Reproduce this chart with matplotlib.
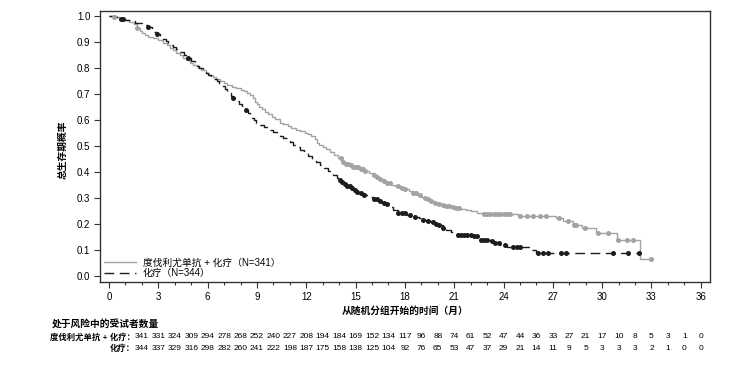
import numpy as np
import matplotlib
matplotlib.use("Agg")
import matplotlib.pyplot as plt
import matplotlib.transforms as mtransforms

plt.rcParams['font.family'] = ['Liberation Sans', 'Noto Sans CJK SC', 'DejaVu Sans']

# ---------------- data ----------------
pembro_label = "度伐利尤单抗 + 化疗（N=341）"
chemo_label = "化疗（N=344）"

pembro_t = [0, 0.3, 0.6, 0.9, 1.2, 1.5, 1.7, 1.9, 2.0, 2.2, 2.4, 2.7, 3.0, 3.3, 3.5, 3.7,
            3.9, 4.1, 4.3, 4.5, 4.7, 4.9, 5.1, 5.4, 5.6, 5.9, 6.1, 6.3, 6.5, 6.75, 7.0,
            7.2, 7.5, 7.7, 8.0, 8.2, 8.4, 8.6, 8.75, 8.9, 9.0, 9.1, 9.3, 9.5, 9.7, 9.9,
            10.1, 10.4, 10.6, 10.9, 11.1, 11.4, 11.6, 11.9, 12.1, 12.3, 12.5, 12.65, 12.8,
            13.0, 13.2, 13.45, 13.7, 13.95, 14.2, 14.4, 14.6, 14.8, 15.0, 15.3, 15.55,
            15.8, 16.1, 16.3, 16.5, 16.7, 16.9, 17.15, 17.4, 17.7, 18.0, 18.25, 18.5,
            18.75, 19.0, 19.2, 19.4, 19.6, 19.8, 20.0, 20.2, 20.5, 20.8, 21.1, 21.4, 21.7,
            22.0, 22.4, 22.8, 24.9, 27.2, 27.6, 28.2, 28.8, 29.6, 30.9, 32.3]
pembro_s = [1.0, 0.995, 0.99, 0.984, 0.977, 0.968, 0.955, 0.943, 0.935, 0.925, 0.918,
            0.914, 0.906, 0.896, 0.888, 0.878, 0.868, 0.857, 0.848, 0.84, 0.83, 0.82,
            0.812, 0.80, 0.792, 0.78, 0.772, 0.765, 0.757, 0.748, 0.741, 0.735, 0.727,
            0.722, 0.715, 0.71, 0.703, 0.695, 0.683, 0.67, 0.66, 0.65, 0.641, 0.632,
            0.622, 0.612, 0.602, 0.59, 0.584, 0.575, 0.568, 0.56, 0.556, 0.55, 0.545,
            0.54, 0.525, 0.513, 0.505, 0.497, 0.49, 0.478, 0.465, 0.452, 0.44, 0.432,
            0.425, 0.421, 0.418, 0.412, 0.405, 0.398, 0.388, 0.38, 0.372, 0.364, 0.357,
            0.351, 0.345, 0.339, 0.333, 0.325, 0.318, 0.311, 0.305, 0.30, 0.296, 0.289,
            0.282, 0.277, 0.272, 0.268, 0.265, 0.261, 0.258, 0.254, 0.25, 0.244, 0.238,
            0.232, 0.222, 0.212, 0.198, 0.185, 0.165, 0.137, 0.065]
pembro_end = 33.0
pembro_cens = [0.3, 1.7,
               14.1, 14.25, 14.4, 14.55, 14.7, 14.85, 15.0, 15.15, 15.3, 15.45, 15.6,
               16.1, 16.3, 16.5, 16.7, 16.9, 17.1, 17.6, 17.8, 18.0, 18.5, 18.7, 18.9,
               19.2, 19.4, 19.6, 19.8, 20.1, 20.3, 20.5, 20.7, 20.9, 21.1, 21.3,
               22.8, 23.0, 23.2, 23.4, 23.6, 23.8, 24.0, 24.2, 24.4,
               25.0, 25.4, 25.8, 26.2, 26.6, 27.4, 27.9, 28.3, 28.4, 28.95, 29.76,
               30.37, 30.98, 31.5, 31.9, 33.0]

chemo_t = [0, 0.4, 0.7, 1.0, 1.3, 1.6, 2.0, 2.4, 2.6, 2.75, 2.9, 3.1, 3.3, 3.45, 3.6,
           3.75, 3.9, 4.1, 4.3, 4.55, 4.8, 5.0, 5.2, 5.35, 5.5, 5.7, 5.9, 6.05, 6.2, 6.4,
           6.55, 6.7, 6.9, 7.05, 7.2, 7.4, 7.56, 7.75, 7.9, 8.1, 8.33, 8.45, 8.6, 8.7,
           8.8, 8.95, 9.1, 9.4, 9.7, 10.0, 10.2, 10.4, 10.6, 10.8, 11.0, 11.2, 11.4, 11.6,
           11.85, 12.1, 12.35, 12.6, 12.85, 13.1, 13.35, 13.65, 13.85, 14.0, 14.15, 14.3,
           14.5, 14.7, 14.9, 15.06, 15.3, 15.5, 15.8, 16.07, 16.35, 16.6, 16.85, 17.1,
           17.3, 17.6, 18.1, 18.35, 18.6, 18.85, 19.1, 19.35, 19.6, 19.85, 20.1, 20.3,
           20.5, 20.8, 21.15, 22.15, 22.6, 23.2, 23.5, 23.8, 24.2, 25.6, 26.0]
chemo_s = [1.0, 0.995, 0.99, 0.985, 0.979, 0.973, 0.965, 0.958, 0.95, 0.94, 0.93, 0.921,
           0.912, 0.903, 0.895, 0.889, 0.882, 0.872, 0.862, 0.85, 0.838, 0.826, 0.815,
           0.807, 0.80, 0.79, 0.78, 0.772, 0.765, 0.756, 0.748, 0.74, 0.73, 0.718, 0.705,
           0.694, 0.683, 0.672, 0.662, 0.651, 0.64, 0.627, 0.615, 0.607, 0.60, 0.59,
           0.58, 0.572, 0.563, 0.555, 0.547, 0.54, 0.531, 0.523, 0.514, 0.505, 0.495,
           0.485, 0.474, 0.462, 0.451, 0.44, 0.428, 0.415, 0.402, 0.388, 0.378, 0.368,
           0.36, 0.352, 0.345, 0.338, 0.331, 0.324, 0.318, 0.312, 0.305, 0.298, 0.29,
           0.282, 0.275, 0.267, 0.254, 0.243, 0.236, 0.232, 0.228, 0.222, 0.215, 0.21,
           0.206, 0.201, 0.196, 0.186, 0.177, 0.168, 0.158, 0.152, 0.14, 0.133, 0.127,
           0.12, 0.112, 0.10, 0.09]
chemo_end = 32.27
chemo_cens = [0.7, 0.85, 2.4, 2.9, 4.83, 7.56, 8.33,
              14.05, 14.2, 14.35, 14.5, 14.65, 14.8, 14.95, 15.1, 15.3, 15.5,
              16.1, 16.3, 16.5, 16.7, 16.9, 17.6, 17.8, 18.0, 18.3, 18.6,
              19.1, 19.4, 19.7, 19.9, 20.1, 20.3,
              21.2, 21.4, 21.6, 21.8, 22.0, 22.2, 22.4, 22.6,
              22.8, 23.0, 23.3, 23.5, 23.7, 24.1, 24.6, 24.8, 25.0,
              26.1, 26.4, 26.7, 27.5, 27.8, 30.65, 31.56, 32.27]

risk_months = list(range(0, 35))
risk_pembro = [341, 331, 324, 309, 294, 278, 268, 252, 240, 227, 208, 194, 184, 169, 152,
               134, 117, 96, 88, 74, 61, 52, 47, 44, 36, 33, 27, 21, 17, 10, 8, 5, 3, 1, 0]
risk_chemo = [344, 337, 329, 316, 298, 282, 260, 241, 222, 198, 187, 175, 158, 138, 125,
              104, 92, 76, 65, 53, 47, 37, 29, 21, 14, 11, 9, 5, 3, 3, 3, 2, 1, 0, 0]
risk_row_labels = ["度伐利尤单抗 + 化疗：", "化疗："]
risk_title = "处于风险中的受试者数量"

x_ticks = list(range(0, 37, 3))
y_ticks = [round(0.1 * i, 1) for i in range(11)]
x_label = "从随机分组开始的时间（月）"
y_label = "总生存期概率"

# ---------------- figure ----------------
W, H = 744, 384
fig = plt.figure(figsize=(W / 100, H / 100), dpi=100)
ax = fig.add_axes([100 / W, 1 - 282 / H, 610 / W, 271 / H])

GREY = "#a3a3a3"
BLACK = "#1c1c1c"


def surv_at(ts, ss, t):
    idx = np.searchsorted(ts, t, side="right") - 1
    return np.asarray(ss)[idx]


# pembro curve
pt = list(pembro_t) + [pembro_end]
ps = list(pembro_s) + [pembro_s[-1]]
ax.step(pt, ps, where="post", color=GREY, lw=1.0, label=pembro_label, zorder=3)
ax.plot(pembro_cens, surv_at(pembro_t, pembro_s, pembro_cens), "o", color=GREY,
        ms=3.6, mec="none", zorder=4)

# chemo curve
ct = list(chemo_t) + [chemo_end]
cs = list(chemo_s) + [chemo_s[-1]]
ln, = ax.step(ct, cs, where="post", color=BLACK, lw=1.0, label=chemo_label, zorder=3)
ln.set_dashes((7, 4))
ax.plot(chemo_cens, surv_at(chemo_t, chemo_s, chemo_cens), "o", color=BLACK,
        ms=3.6, mec="none", zorder=4)

ax.set_xlim(-0.55, 36.56)
ax.set_ylim(-0.023, 1.019)
ax.set_xticks(x_ticks)
ax.set_xticks(range(0, 37), minor=True)
ax.set_yticks(y_ticks)
ax.set_yticklabels([f"{v:.1f}" for v in y_ticks])
ax.tick_params(axis="both", which="major", labelsize=7, length=4, width=0.8,
               color="#333333", pad=3)
ax.tick_params(axis="x", which="minor", length=2.5, width=0.8, color="#333333")
for s in ax.spines.values():
    s.set_color("#333333")
    s.set_linewidth(1.0)

ax.set_xlabel(x_label, fontsize=7, fontweight="bold", labelpad=3)
ax.set_ylabel(y_label, fontsize=7, fontweight="bold")
ax.yaxis.set_label_coords((68 - 100) / 610, 0.487)

leg = ax.legend(loc="lower left", frameon=False, fontsize=7, handlelength=3.3,
                handletextpad=0.7, labelspacing=0.05, borderaxespad=0.2, borderpad=0.2)

# risk table
fig.text(52 / W, 1 - 324 / H, risk_title, fontsize=7, fontweight="bold",
         ha="left", va="center")
trans = mtransforms.blended_transform_factory(ax.transData, fig.transFigure)
rows_y = [1 - 337 / H, 1 - 349 / H]
for lab, vals, yy in zip(risk_row_labels, [risk_pembro, risk_chemo], rows_y):
    fig.text(135 / W, yy, lab, fontsize=6, fontweight="bold", ha="right", va="center")
    for m, v in zip(risk_months, vals):
        ax.text(m + 2, yy, str(v), transform=trans, fontsize=6, ha="center",
                va="center", clip_on=False)

fig.savefig("out.png", dpi=100)
